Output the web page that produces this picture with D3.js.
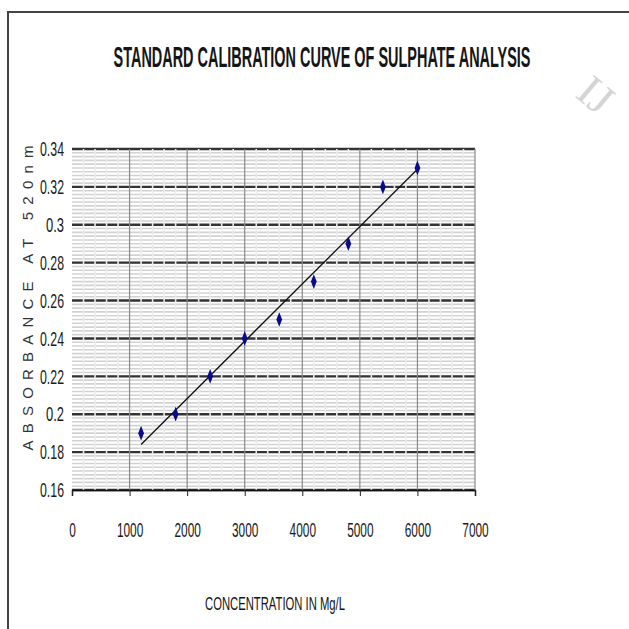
<!DOCTYPE html>
<html>
<head>
<meta charset="utf-8">
<script src="https://cdn.jsdelivr.net/npm/d3@7"></script>
<style>
    body { margin: 0; background: #fff; }
</style>
</head>
<body>
<script>
// calibration readings: concentration (mg/L) and absorbance at 520nm
var concentration = [1200, 1800, 2400, 3000, 3600, 4200, 4800, 5400, 6000];
var absorbance = [0.19, 0.20, 0.22, 0.24, 0.25, 0.27, 0.29, 0.32, 0.33];
var xTicks = [0, 1000, 2000, 3000, 4000, 5000, 6000, 7000];
var yTicks = [0.16, 0.18, 0.2, 0.22, 0.24, 0.26, 0.28, 0.3, 0.32, 0.34];

var W = 629, H = 629;
// plot area in page pixels
var margin = {top: 149, right: 154, bottom: 139, left: 72},
    width = W - margin.left - margin.right,
    height = H - margin.top - margin.bottom;

// narrow looking text: squeeze glyphs to a set width per character
var FONT = "Liberation Sans, Arial, sans-serif";
function squeeze(sel, perChar) {
    sel.attr("textLength", function() { return this.textContent.length * perChar; })
        .attr("lengthAdjust", "spacingAndGlyphs");
}

var svg = d3.select("body").append("svg")
    .attr("width", W)
    .attr("height", H)
    .style("font-family", FONT);

// centred text squeezed horizontally to a target width with a scale
function narrowText(cx, y, w, size, weight, txt) {
    var t = svg.append("text")
        .attr("text-anchor", "middle")
        .attr("font-size", size)
        .attr("font-weight", weight)
        .attr("fill", "#151515")
        .text(txt);
    var k = w / t.node().getComputedTextLength();
    t.attr("transform", "translate(" + cx + "," + y + ") scale(" + k + ",1)");
    return t;
}

// outer chart frame (runs off the right and bottom of the picture)
svg.append("rect")
    .attr("x", 8).attr("y", 12)
    .attr("width", 700).attr("height", 700)
    .attr("fill", "none")
    .attr("stroke", "#444")
    .attr("stroke-width", 2);

// faint watermark top right
svg.append("text")
    .attr("transform", "translate(574,96) rotate(40)")
    .attr("font-size", 44)
    .attr("fill", "#d4d4d4")
    .style("font-family", "Liberation Serif, serif")
    .text("IJ");

var g = svg.append("g")
    .attr("transform", "translate(" + margin.left + "," + margin.top + ")");

var xScale = d3.scaleLinear().domain([0, 7000]).range([0, width]);
var yScale = d3.scaleLinear().domain([0.16, 0.34]).range([height, 0]);

// minor horizontal grid every 0.002
var minorY = d3.range(0.16, 0.3401, 0.002);
g.selectAll(".hminor")
    .data(minorY)
    .enter().append("line")
    .attr("x1", 0).attr("x2", width)
    .attr("y1", function(d) { return yScale(d); })
    .attr("y2", function(d) { return yScale(d); })
    .attr("stroke", "#d2d2d2")
    .attr("stroke-width", 1.6);

// major horizontal grid
g.selectAll(".hmajor")
    .data(yTicks)
    .enter().append("line")
    .attr("x1", 0).attr("x2", width)
    .attr("y1", function(d) { return yScale(d); })
    .attr("y2", function(d) { return yScale(d); })
    .attr("stroke", "#333")
    .attr("stroke-width", 2.4);

// minor vertical grid every 200, pale so it breaks the horizontals
var minorX = d3.range(200, 7000, 200).filter(function(d) { return d % 1000 !== 0; });
g.selectAll(".vminor")
    .data(minorX)
    .enter().append("line")
    .attr("x1", function(d) { return xScale(d); })
    .attr("x2", function(d) { return xScale(d); })
    .attr("y1", 0).attr("y2", height)
    .attr("stroke", "#ececec")
    .attr("stroke-width", 1.6);

// major vertical grid
g.selectAll(".vmajor")
    .data(xTicks.slice(1))
    .enter().append("line")
    .attr("x1", function(d) { return xScale(d); })
    .attr("x2", function(d) { return xScale(d); })
    .attr("y1", 0).attr("y2", height)
    .attr("stroke", "#8a8a8a")
    .attr("stroke-width", 1.2);

// x axis
var xAxis = d3.axisBottom(xScale)
    .tickValues(xTicks)
    .tickSize(6)
    .tickFormat(d3.format("d"));
var xg = g.append("g")
    .attr("transform", "translate(0," + height + ")")
    .call(xAxis);
xg.select(".domain").attr("stroke", "#111").attr("stroke-width", 1.5);
xg.selectAll(".tick line").attr("stroke", "#222");
xg.selectAll("text")
    .attr("y", 33)
    .attr("font-size", 20)
    .attr("font-family", null)
    .attr("fill", "#1a1a1a")
    .call(squeeze, 6.6);

// y axis labels only
var yAxis = d3.axisLeft(yScale)
    .tickValues(yTicks)
    .tickSize(0)
    .tickPadding(8)
    .tickFormat(function(d) { return String(+d.toFixed(2)); });
var yg = g.append("g").call(yAxis);
yg.select(".domain").remove();
yg.selectAll("text")
    .attr("font-size", 21)
    .attr("font-family", null)
    .attr("fill", "#1a1a1a")
    .call(squeeze, 6);

// linear trendline from least squares fit
var mx = d3.mean(concentration), my = d3.mean(absorbance);
var sxy = d3.sum(concentration, function(x, i) { return (x - mx) * (absorbance[i] - my); });
var sxx = d3.sum(concentration, function(x) { return (x - mx) * (x - mx); });
var slope = sxy / sxx, intercept = my - slope * mx;
var x0 = d3.min(concentration), x1 = d3.max(concentration);
g.append("line")
    .attr("x1", xScale(x0)).attr("y1", yScale(intercept + slope * x0))
    .attr("x2", xScale(x1)).attr("y2", yScale(intercept + slope * x1))
    .attr("stroke", "#111")
    .attr("stroke-width", 1.3);

// data markers: tall navy diamonds
var diamond = d3.symbol().type(d3.symbolDiamond).size(40);
g.selectAll(".pt")
    .data(concentration)
    .enter().append("path")
    .attr("d", diamond)
    .attr("transform", function(d, i) {
        return "translate(" + xScale(d) + "," + yScale(absorbance[i]) + ") scale(0.85,1.25)";
    })
    .attr("fill", "#0a0a8c");

// title
narrowText(322, 67, 417, 29, "bold", "STANDARD CALIBRATION CURVE OF SULPHATE ANALYSIS");

// y axis title
svg.append("text")
    .attr("transform", "translate(33,298) rotate(-90)")
    .attr("text-anchor", "middle")
    .attr("font-size", 15)
    .attr("fill", "#333")
    .attr("textLength", 305)
    .attr("lengthAdjust", "spacing")
    .text("ABSORBANCE AT 520nm");

// x axis title
narrowText(275, 610, 140, 19, "normal", "CONCENTRATION IN Mg/L");
</script>
</body>
</html>
